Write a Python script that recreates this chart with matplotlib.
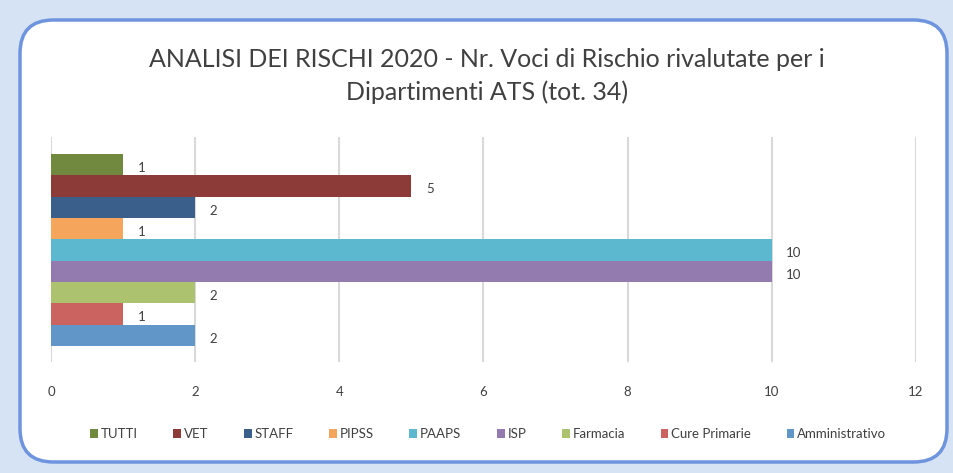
import matplotlib
matplotlib.use('Agg')
import matplotlib.pyplot as plt
from matplotlib.patches import FancyBboxPatch

# Data
series = ['TUTTI', 'VET', 'STAFF', 'PIPSS', 'PAAPS', 'ISP', 'Farmacia',
          'Cure Primarie', 'Amministrativo']
values = [1, 5, 2, 1, 10, 10, 2, 1, 2]
colors = ['#71893f', '#8c3b38', '#3a5f8a', '#f6a55d', '#5bb8ce',
          '#937bb0', '#adc26e', '#cb6460', '#6196c9']
title = ('ANALISI DEI RISCHI 2020 - Nr. Voci di Rischio rivalutate per i\n'
         'Dipartimenti ATS (tot. 34)')

plt.rcParams['font.family'] = ['Lato', 'DejaVu Sans']
text_color = '#404040'

fig = plt.figure(figsize=(9.54, 4.73), dpi=100)
fig.patch.set_facecolor('#d6e3f4')

# White rounded chart frame
W, H = 954, 473
frame = FancyBboxPatch((20 / W, 11 / H), 927 / W, 442 / H,
                       boxstyle='round,pad=0,rounding_size=0.035',
                       transform=fig.transFigure, facecolor='white',
                       edgecolor='#6f94de', linewidth=2.5,
                       mutation_aspect=W / H, zorder=-10)
fig.patches.append(frame)

fig.text(487 / W, 1 - 76 / H, title, ha='center', va='center',
         fontsize=18, color=text_color, linespacing=1.45)

ax = fig.add_axes([51 / W, 1 - 362 / H, 865 / W, 225 / H])
ax.set_facecolor('none')

n = len(series)
for i, (name, val, col) in enumerate(zip(series, values, colors)):
    y = n - 1 - i
    ax.barh(y, val, height=1.0, color=col, label=name, zorder=3)
    ax.text(val + 0.2, y - 0.15, str(val), va='center', ha='left',
            fontsize=9.5, color=text_color)

ax.set_xlim(0, 12)
ax.set_ylim(-1.25, 9.3)
ax.set_xticks(range(0, 13, 2))
ax.set_yticks([])
ax.grid(True, axis='x', color='#d9d9d9', linewidth=1.5, zorder=0)
for s in ax.spines.values():
    s.set_visible(False)
ax.tick_params(axis='x', length=0, pad=17, labelsize=9.5, labelcolor=text_color)

handles, labels = ax.get_legend_handles_labels()
leg = fig.legend(handles, labels, loc='center', ncol=n,
                 bbox_to_anchor=(488 / W, 1 - 434 / H), frameon=False,
                 fontsize=9.5, handlelength=0.6, handleheight=0.6,
                 handletextpad=0.2, columnspacing=2.7)
for t in leg.get_texts():
    t.set_color(text_color)

plt.savefig('out.png', dpi=100, facecolor=fig.get_facecolor())
